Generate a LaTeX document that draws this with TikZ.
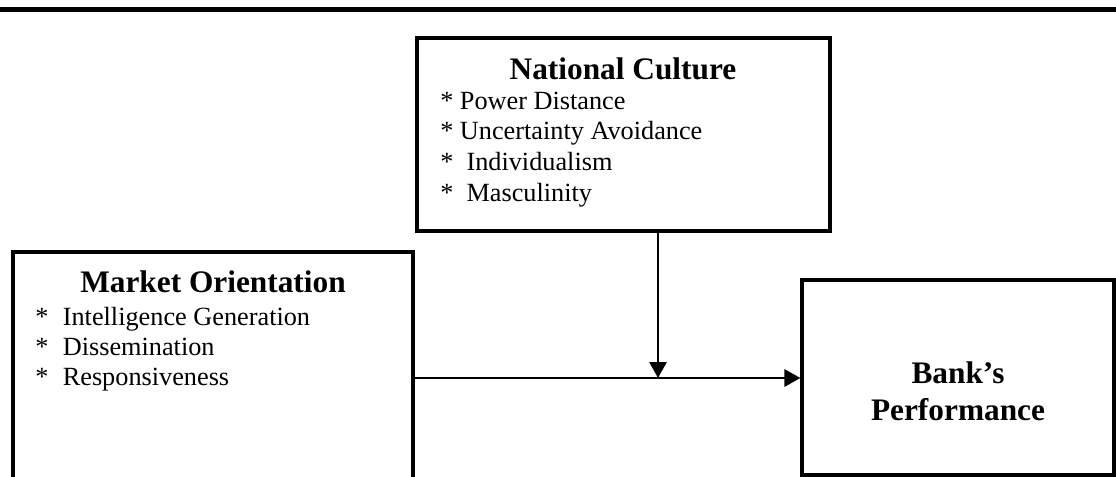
\documentclass[tikz,border=0pt]{standalone}
\usepackage{fontspec}
\setmainfont{Liberation Serif}
\usetikzlibrary{arrows.meta}
\tikzset{
  boxnode/.style={draw, rectangle, line width=2.3pt, inner sep=0pt},
  titletext/.style={font=\fontsize{23.5}{28}\selectfont\bfseries, inner sep=0pt, anchor=base},
  itemtext/.style={font=\fontsize{19.7}{23}\selectfont, inner sep=0pt, anchor=base west},
  flow/.style={line width=2.1pt, -{Triangle[length=12pt,width=12.75pt]}}
}
\begin{document}
\begin{tikzpicture}[x=0.75pt,y=-0.75pt]
\fill[white] (0,0) rectangle (1116,477);
\clip (0,0) rectangle (1116,477);
\draw[line width=3.3pt] (0,9.5) -- (1116,9.5);
% boxes
\node[boxnode, minimum width=309.75pt, minimum height=144.75pt] (nc) at (623.5,134.5){};
\node[boxnode, minimum width=300pt, minimum height=186pt] (mo) at (213,376){};
\node[boxnode, minimum width=234pt, minimum height=146.25pt] (bp) at (958,377.5){};
% texts
\node[titletext] (nctitle) at (623,80){National Culture};
\node[itemtext] (ncpower) at (440,110){* Power Distance};
\node[itemtext] (ncuncert) at (440,140){* Uncertainty Avoidance};
\node[itemtext] (ncindiv) at (440,171){*\hspace{0.5em}Individualism};
\node[itemtext] (ncmasc) at (440,202){*\hspace{0.5em}Masculinity};
\node[titletext] (motitle) at (213,292){Market Orientation};
\node[itemtext] (mointel) at (35,325){*\hspace{0.55em}Intelligence Generation};
\node[itemtext] (modissem) at (35,355){*\hspace{0.55em}Dissemination};
\node[itemtext] (moresp) at (35,385){*\hspace{0.55em}Responsiveness};
\node[titletext] (bpbank) at (958,383){Bank’s};
\node[titletext] (bpperf) at (958,420){Performance};
% connectors
\coordinate (join) at (658,378);
\draw[flow](nc.south -| join) -- (join);
\draw[flow](mo.east |- join) -- (bp.west |- join);
\end{tikzpicture}
\end{document}
